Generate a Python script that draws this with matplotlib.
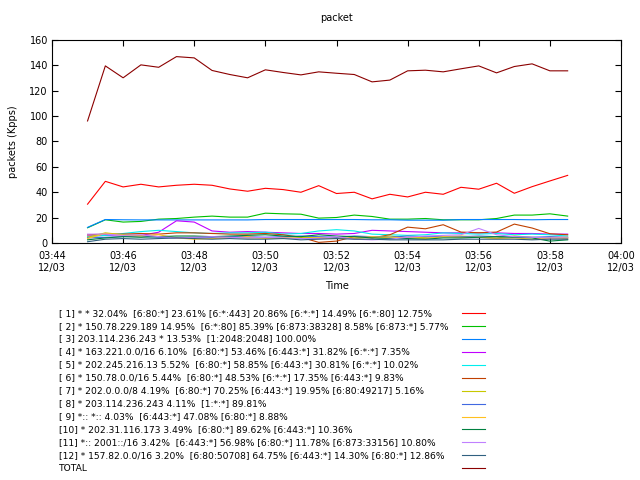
#!/usr/bin/env python3
# packet rate per flow group, gnuplot-like look

import numpy as np
import pandas as pd
import matplotlib
matplotlib.use("Agg")
import matplotlib.pyplot as plt
import matplotlib.dates as mdates
from matplotlib.lines import Line2D

#%% data (Kpps, every 30 s)

times = pd.date_range("2000-12-03 03:45:00", periods=28, freq="30s")

s1 = [30.6, 48.6, 44.2, 46.3, 44.2, 45.5, 46.3, 45.5, 42.6, 40.8, 43.1, 42.1, 40.0, 45.2,
      39.0, 40.0, 34.8, 38.4, 36.3, 40.0, 38.4, 43.9, 42.4, 47.1, 39.2, 44.4, 48.9, 53.3]
s2 = [12.0, 18.3, 16.5, 17.0, 18.8, 19.3, 20.4, 21.2, 20.4, 20.4, 23.5, 23.0, 22.7, 19.6,
      20.1, 22.0, 20.9, 18.8, 18.8, 19.3, 18.3, 18.3, 18.3, 19.3, 22.0, 22.0, 23.0, 21.2]
s3 = [12.3, 18.5, 18.3, 18.2, 18.2, 18.2, 18.2, 18.2, 18.2, 18.2, 18.5, 18.5, 18.5, 18.5,
      18.5, 18.5, 18.3, 18.3, 18.0, 18.0, 18.0, 18.5, 18.5, 18.5, 18.5, 18.3, 18.5, 18.5]
s4 = [5.5, 6.0, 6.5, 6.0, 8.5, 17.5, 16.5, 9.5, 8.5, 9.0, 8.5, 8.0, 7.5, 7.5,
      7.0, 7.5, 10.0, 9.5, 9.0, 8.5, 8.0, 8.0, 8.0, 8.0, 7.5, 7.5, 7.0, 7.0]
s5 = [5.0, 6.0, 7.5, 9.0, 10.0, 9.0, 8.0, 7.5, 8.0, 8.0, 8.5, 7.0, 7.5, 9.5,
      10.5, 9.5, 7.0, 6.5, 6.0, 6.5, 8.0, 7.5, 7.0, 7.5, 6.5, 7.0, 6.5, 5.5]
s6 = [6.5, 7.0, 7.0, 7.5, 7.0, 8.0, 8.0, 7.5, 7.0, 7.0, 7.5, 6.5, 4.5, 0.5,
      1.5, 5.0, 4.0, 6.5, 12.5, 11.2, 14.4, 8.6, 8.1, 8.6, 14.9, 11.8, 7.3, 6.5]
s7 = [4.5, 8.0, 6.5, 6.0, 5.0, 4.0, 4.5, 5.0, 4.5, 4.0, 4.0, 3.5, 4.5, 4.0,
      4.5, 3.5, 4.5, 5.5, 4.0, 4.5, 5.0, 5.5, 4.5, 4.0, 5.5, 4.5, 4.0, 3.5]
s8 = [4.0, 4.5, 5.0, 5.5, 4.5, 4.0, 4.5, 4.5, 5.0, 5.0, 4.5, 5.0, 5.5, 5.0,
      4.5, 5.5, 5.0, 4.5, 5.5, 5.0, 5.0, 5.0, 5.5, 5.0, 5.0, 4.5, 5.0, 4.5]
s9 = [3.5, 7.5, 6.0, 5.5, 6.5, 4.0, 3.0, 3.5, 4.0, 5.0, 3.5, 4.5, 3.5, 4.0,
      3.5, 4.0, 5.0, 4.0, 4.5, 3.5, 5.0, 4.5, 4.5, 3.5, 4.0, 3.0, 4.0, 4.5]
s10 = [2.5, 4.0, 5.0, 4.5, 5.0, 5.5, 5.5, 5.0, 5.5, 6.0, 6.5, 5.5, 5.0, 6.5,
       5.5, 5.0, 4.0, 3.5, 3.5, 3.0, 4.0, 4.0, 4.5, 5.0, 4.5, 4.0, 1.5, 2.5]
s11 = [7.0, 7.0, 6.0, 6.5, 5.0, 4.0, 4.5, 5.0, 4.5, 4.0, 4.5, 4.0, 3.5, 3.5,
       5.0, 3.0, 2.5, 3.0, 4.5, 5.5, 6.0, 6.5, 11.5, 6.5, 5.0, 4.5, 4.0, 4.0]
s12 = [1.0, 3.0, 3.5, 3.0, 3.5, 4.0, 3.5, 3.0, 3.5, 3.0, 3.0, 3.5, 2.5, 3.0,
       3.5, 3.0, 3.0, 2.5, 2.5, 2.5, 2.5, 3.0, 3.0, 3.0, 3.0, 2.5, 3.0, 3.0]
total = [96.2, 139.6, 130.2, 140.4, 138.5, 146.9, 145.9, 136.0, 132.8, 130.2, 136.5, 134.4,
         132.5, 134.9, 133.8, 132.8, 127.0, 128.4, 135.7, 136.2, 134.9, 137.3, 139.6,
         134.1, 139.1, 141.2, 135.7, 135.7]

labels = [
    "[ 1] * * 32.04%  [6:80:*] 23.61% [6:*:443] 20.86% [6:*:*] 14.49% [6:*:80] 12.75%",
    "[ 2] * 150.78.229.189 14.95%  [6:*:80] 85.39% [6:873:38328] 8.58% [6:873:*] 5.77%",
    "[ 3] 203.114.236.243 * 13.53%  [1:2048:2048] 100.00%",
    "[ 4] * 163.221.0.0/16 6.10%  [6:80:*] 53.46% [6:443:*] 31.82% [6:*:*] 7.35%",
    "[ 5] * 202.245.216.13 5.52%  [6:80:*] 58.85% [6:443:*] 30.81% [6:*:*] 10.02%",
    "[ 6] * 150.78.0.0/16 5.44%  [6:80:*] 48.53% [6:*:*] 17.35% [6:443:*] 9.83%",
    "[ 7] * 202.0.0.0/8 4.19%  [6:80:*] 70.25% [6:443:*] 19.95% [6:80:49217] 5.16%",
    "[ 8] * 203.114.236.243 4.11%  [1:*:*] 89.81%",
    "[ 9] *:: *:: 4.03%  [6:443:*] 47.08% [6:80:*] 8.88%",
    "[10] * 202.31.116.173 3.49%  [6:80:*] 89.62% [6:443:*] 10.36%",
    "[11] *:: 2001::/16 3.42%  [6:443:*] 56.98% [6:80:*] 11.78% [6:873:33156] 10.80%",
    "[12] * 157.82.0.0/16 3.20%  [6:80:50708] 64.75% [6:443:*] 14.30% [6:80:*] 12.86%",
    "TOTAL",
]

colors = ["#ff0000", "#00c000", "#0080ff", "#c000ff", "#00eeee", "#c04000",
          "#c8c800", "#4169e1", "#ffc020", "#008040", "#c080ff", "#306080", "#8b0000"]

series = [s1, s2, s3, s4, s5, s6, s7, s8, s9, s10, s11, s12, total]

#%% plot

plt.rcParams['font.family'] = ['DejaVu Sans']
plt.rcParams['font.size'] = 7

fig = plt.figure(figsize=(6.4, 4.8), dpi=100)
ax = fig.add_axes([52/640, 1 - 243/480, 569/640, 203/480])

for ys, c in zip(series, colors):
    ax.plot(times, ys, color=c, linewidth=0.8)

ax.set_xlim(pd.Timestamp("2000-12-03 03:44"), pd.Timestamp("2000-12-03 04:00"))
ax.set_ylim(0, 160)
ax.set_yticks(np.arange(0, 161, 20))
ax.xaxis.set_major_locator(mdates.MinuteLocator(byminute=range(0, 60, 2)))
ax.xaxis.set_major_formatter(mdates.DateFormatter("%H:%M\n%m/%d"))

ax.tick_params(direction='in', top=True, right=True, length=4.5, width=0.8,
               labelsize=7)
ax.tick_params(axis='x', pad=6)
ax.tick_params(axis='y', pad=3)
for sp in ax.spines.values():
    sp.set_linewidth(0.8)

ax.set_title("packet", fontsize=7, pad=14)
ax.set_xlabel("Time", labelpad=6)
ax.set_ylabel("packets (Kpps)", labelpad=8)

# legend block below the plot, text left, sample line right
for i, (lab, c) in enumerate(zip(labels, colors)):
    y = 1 - (313.3 + 12.9 * i) / 480
    fig.text(59/640, y, lab, fontsize=6.6, va='center', ha='left')
    fig.add_artist(Line2D([462/640, 485/640], [y, y], transform=fig.transFigure,
                          color=c, linewidth=0.8))

fig.savefig("out.png", dpi=100, facecolor='white')
